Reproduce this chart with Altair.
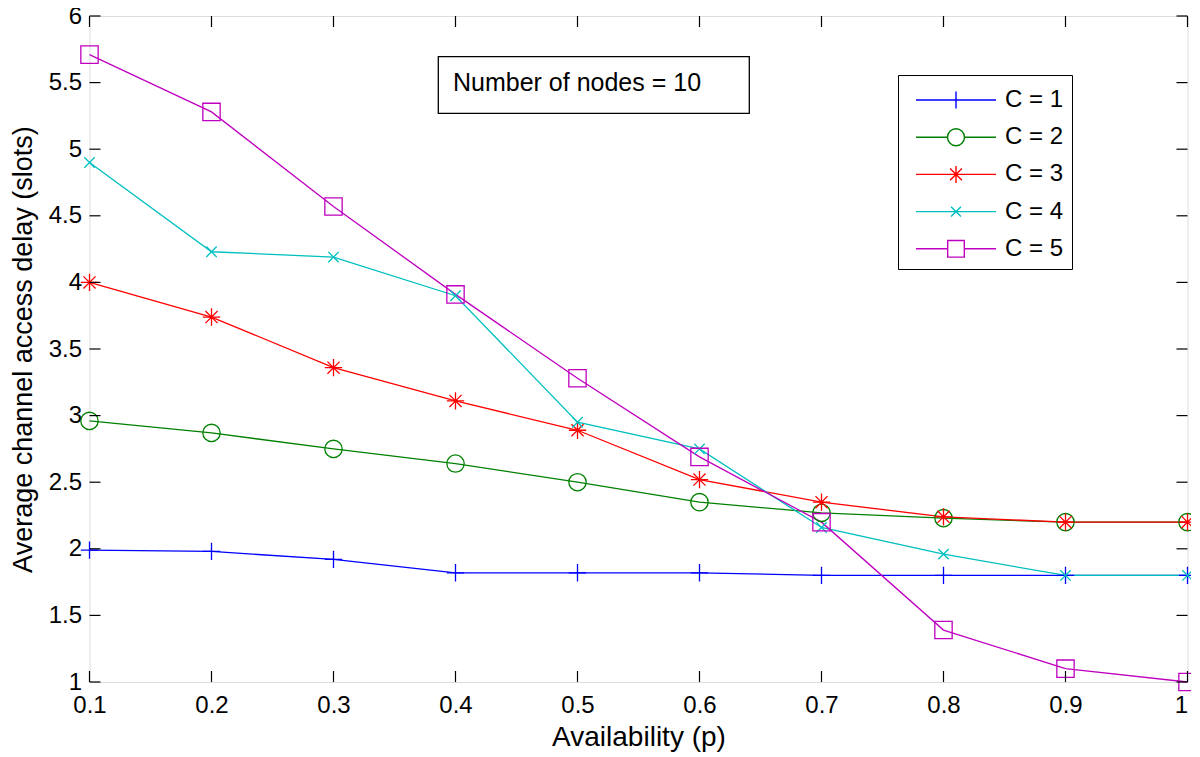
import altair as alt
import pandas as pd

# ---- data ----
p_values = [0.1, 0.2, 0.3, 0.4, 0.5, 0.6, 0.7, 0.8, 0.9, 1.0]
c1 = [1.99, 1.98, 1.92, 1.82, 1.82, 1.82, 1.80, 1.80, 1.80, 1.80]
c2 = [2.96, 2.87, 2.75, 2.64, 2.50, 2.35, 2.27, 2.23, 2.20, 2.20]
c3 = [4.00, 3.74, 3.36, 3.11, 2.89, 2.52, 2.35, 2.24, 2.20, 2.20]
c4 = [4.90, 4.23, 4.19, 3.90, 2.95, 2.75, 2.16, 1.96, 1.80, 1.80]
c5 = [5.71, 5.28, 4.57, 3.91, 3.28, 2.69, 2.20, 1.39, 1.10, 1.00]
series_names = ["C = 1", "C = 2", "C = 3", "C = 4", "C = 5"]
series_colors = ["#0000FF", "#008000", "#FF0000", "#00BFBF", "#BF00BF"]
x_ticks = [0.1, 0.2, 0.3, 0.4, 0.5, 0.6, 0.7, 0.8, 0.9, 1.0]
y_ticks = [1, 1.5, 2, 2.5, 3, 3.5, 4, 4.5, 5, 5.5, 6]
annotation = ["Number of nodes = 10"]

# marker shapes (plot) and legend symbols (line + marker)
plot_shapes = [
    "M-1,0H1M0,-1V1",
    "circle",
    "M-1,0H1M0,-1V1M-0.7,-0.7L0.7,0.7M-0.7,0.7L0.7,-0.7",
    "M-0.6,-0.6L0.6,0.6M-0.6,0.6L0.6,-0.6",
    "M-1,-1H1V1H-1Z",
]
legend_shapes = [
    "M-2.5,0H2.5M0,-0.53V0.53",
    "M-2.5,0H-0.53M0.53,0H2.5M0.53,0A0.53,0.53 0 1,1 -0.53,0A0.53,0.53 0 1,1 0.53,0",
    "M-2.5,0H2.5M0,-0.53V0.53M-0.37,-0.37L0.37,0.37M-0.37,0.37L0.37,-0.37",
    "M-2.5,0H2.5M-0.31,-0.31L0.31,0.31M-0.31,0.31L0.31,-0.31",
    "M-2.5,0H-0.52M0.52,0H2.5M-0.52,-0.52H0.52V0.52H-0.52Z",
]

rows = []
for name, vals in zip(series_names, [c1, c2, c3, c4, c5]):
    for p, v in zip(p_values, vals):
        rows.append({"p": p, "delay": v, "series": name})
df = pd.DataFrame(rows)

W, H = 1098, 666
FONT = "Liberation Sans"

xscale = alt.Scale(domain=[0.1, 1.0], nice=False, zero=False)
yscale = alt.Scale(domain=[1, 6], nice=False, zero=False)

x_enc = alt.X("p:Q", scale=xscale, axis=alt.Axis(
    values=x_ticks, format="~g", title="Availability (p)", tickSize=0, domain=False,
    grid=False, labelFontSize=24, labelFont=FONT, labelColor="black", labelPadding=11,
    labelFlush=False, labelOverlap=False,
    labelAlign={"expr": "datum.value >= 0.99 ? 'right' : 'center'"},
    titleFontSize=28, titleFont=FONT, titleFontWeight="normal", titleColor="black",
    titleBaseline="alphabetic", titleY=63))
y_enc = alt.Y("delay:Q", scale=yscale, axis=alt.Axis(
    values=y_ticks, format="~g", title="Average channel access delay (slots)", tickSize=0,
    domain=False, grid=False, labelFontSize=24, labelFont=FONT, labelColor="black",
    labelPadding=8, labelFlush=False, labelOverlap=False,
    titleFontSize=27, titleFont=FONT, titleFontWeight="normal",
    titleColor="black", titleBaseline="alphabetic", titleX=-58, titleY=H / 2,
    titleAngle=270, titleAlign="center"))

color_scale = alt.Scale(domain=series_names, range=series_colors)

base = alt.Chart(df)

lines = base.mark_line(strokeWidth=1.3).encode(
    x=x_enc, y=y_enc,
    color=alt.Color("series:N", scale=color_scale, legend=None),
)

points = base.mark_point(filled=False, size=300, strokeWidth=1.3, opacity=1).encode(
    x="p:Q", y="delay:Q",
    color=alt.Color("series:N", scale=color_scale, legend=None),
    shape=alt.Shape("series:N", scale=alt.Scale(domain=series_names, range=plot_shapes), legend=None),
)

leg = alt.Legend(
    title=None, orient="none", legendX=808.5, legendY=59,
    strokeColor="black", fillColor="white", padding=8,
    symbolSize=1024, symbolStrokeWidth=1.4, symbolFillColor="transparent",
    symbolOffset=33, labelOffset=32, labelFontSize=24, labelFont=FONT,
    labelColor="black", rowPadding=8.2, labelLimit=300,
)
legend_layer = base.mark_point(filled=False, strokeWidth=1.4, opacity=1).encode(
    x="p:Q", y="delay:Q",
    color=alt.Color("series:N", scale=color_scale, legend=leg),
    shape=alt.Shape("series:N", scale=alt.Scale(domain=series_names, range=legend_shapes), legend=leg),
).transform_filter("false")

# inward ticks on all four sides (matlab style)
xt = pd.DataFrame({"t": x_ticks})
yt = pd.DataFrame({"t": y_ticks})
TL = 11
xt_bottom = alt.Chart(xt).mark_rule(color="black", strokeWidth=1.2).encode(
    x=alt.X("t:Q", scale=xscale), y=alt.value(H), y2=alt.value(H - TL))
xt_top = alt.Chart(xt).mark_rule(color="black", strokeWidth=1.2).encode(
    x=alt.X("t:Q", scale=xscale), y=alt.value(0), y2=alt.value(TL))
yt_left = alt.Chart(yt).mark_rule(color="black", strokeWidth=1.2).encode(
    y=alt.Y("t:Q", scale=yscale), x=alt.value(0), x2=alt.value(TL))
yt_right = alt.Chart(yt).mark_rule(color="black", strokeWidth=1.2).encode(
    y=alt.Y("t:Q", scale=yscale), x=alt.value(W), x2=alt.value(W - TL))

ann = pd.DataFrame({"label": annotation})
ann_box = alt.Chart(ann).mark_rect(fill="white", stroke="black", strokeWidth=1.3).encode(
    x=alt.value(348.8), x2=alt.value(659.8), y=alt.value(40.7), y2=alt.value(97.3))
ann_text = alt.Chart(ann).mark_text(
    align="left", baseline="middle", fontSize=25, font=FONT, color="black").encode(
    x=alt.value(363.5), y=alt.value(66.5), text="label:N")

chart = alt.layer(
    lines, points, xt_bottom, xt_top, yt_left, yt_right, ann_box, ann_text, legend_layer
).resolve_scale(
    color="independent", shape="independent"
).properties(
    width=W, height=H,
    padding={"left": 81.5, "top": 8, "right": 3.5, "bottom": 70},
    autosize=alt.AutoSizeParams(type="none"),
).configure_view(
    stroke="black", strokeWidth=1.5
).configure(
    background="white"
)

chart.save("out.html", embed_options={"renderer": "svg", "actions": False})
